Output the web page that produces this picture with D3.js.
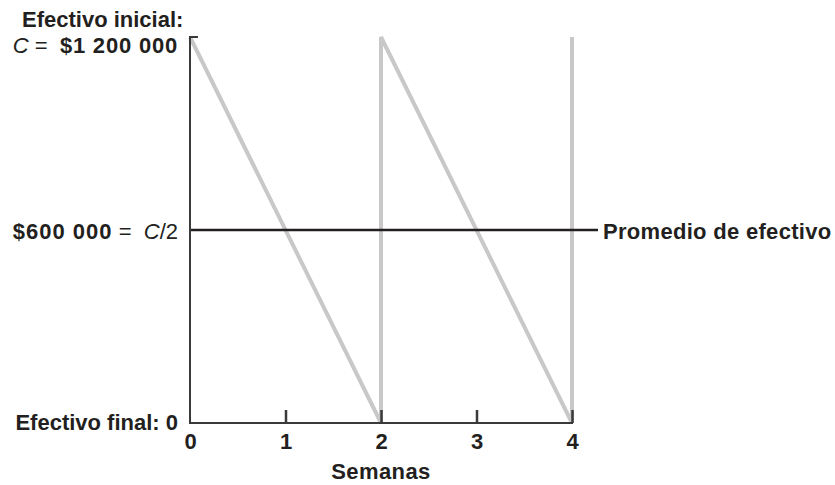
<!DOCTYPE html>
<html><head><meta charset="utf-8">
<script src="https://cdn.jsdelivr.net/npm/d3@7/dist/d3.min.js"></script>
<style>
body{margin:0;background:#fff;}
text{font-family:"Liberation Sans",Arial,sans-serif;fill:#231f20;}
</style></head>
<body><svg id="c" width="835" height="485"></svg>
<script>
const weeks = [0, 1, 2, 3, 4];
const tickLabels = ["0", "1", "2", "3", "4"];
const cashX = [0, 2, 2, 4, 4];
const cashY = [1200000, 0, 1200000, 0, 1200000];
const average = 600000;
const yMax = 1200000;

const svg = d3.select("#c");
const x = d3.scaleLinear().domain([0, 4]).range([190, 572]);
const y = d3.scaleLinear().domain([0, yMax]).range([423, 37]);

const fs = 22;
// sawtooth
const pts = cashX.map((d, i) => [d, cashY[i]]);
svg.append("path")
  .attr("d", d3.line().x(d => x(d[0])).y(d => y(d[1]))(pts))
  .attr("fill", "none").attr("stroke", "#c8c8c8").attr("stroke-width", 4);

// average line
svg.append("line").attr("x1", x(0)).attr("x2", 598)
  .attr("y1", y(average)).attr("y2", y(average))
  .attr("stroke", "#231f20").attr("stroke-width", 2.5);

// axes
const axisColor = "#3a3a3a";
svg.append("path")
  .attr("d", `M${x(0)+8},${y(yMax)}H${x(0)}V${y(0)}H${x(4)+1}`)
  .attr("fill", "none").attr("stroke", axisColor).attr("stroke-width", 2);

const xAxis = d3.axisBottom(x).tickValues(weeks).tickFormat((d, i) => tickLabels[i]).tickSize(0).tickPadding(0);
const gx = svg.append("g").attr("transform", `translate(0,${y(0)})`).call(xAxis);
gx.select(".domain").remove();
gx.selectAll(".tick text").attr("font-size", fs).attr("font-weight", "bold").attr("fill", "#231f20")
  .style("font-family", '"Liberation Sans",Arial,sans-serif').attr("y", 26).attr("dy", 0);
gx.selectAll(".tick").filter(d => d > 0).append("line")
  .attr("y1", 0).attr("y2", -13).attr("stroke", axisColor).attr("stroke-width", 2.5);

// labels
function label(tx, ty, anchor, parts) {
  const t = svg.append("text").attr("x", tx).attr("y", ty).attr("text-anchor", anchor).attr("font-size", fs)
    .attr("xml:space", "preserve").style("white-space", "pre");
  parts.forEach(p => {
    t.append("tspan").text(p[0]).attr("font-weight", p[1] ? "bold" : "normal")
      .attr("font-style", p[2] ? "italic" : "normal")
      .attr("letter-spacing", p[3] || 0);
  });
  return t;
}
label(22, 27, "start", [["Efectivo inicial:", true]]);
label(178, 53, "end", [["C", false, true], [" =  ", false], ["$1 200 000", true, false, 0.8]]);
label(178, 239, "end", [["$600 000", true, false, 1.0], [" =  ", false], ["C", false, true], ["/2", false]]);
label(178, 430, "end", [["Efectivo final: 0", true]]);
label(603, 239, "start", [["Promedio de efectivo", true, false, 0.3]]);
label(x(2), 479, "middle", [["Semanas", true, false, 0.4]]);
</script></body></html>
